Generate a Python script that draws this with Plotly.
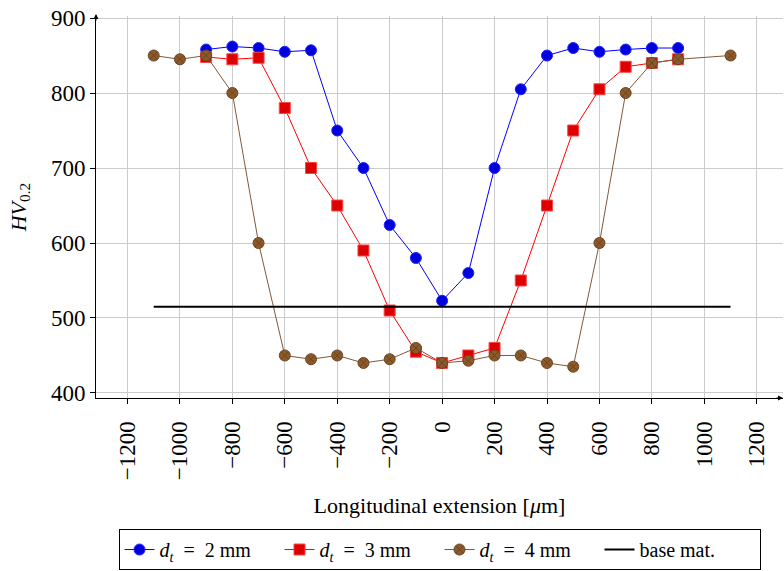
import plotly.graph_objects as go

x_d2 = [-900, -800, -700, -600, -500, -400, -300, -200, -100, 0, 100, 200, 300, 400, 500, 600, 700, 800, 900]
hv_d2 = [858, 862, 860, 855, 857, 750, 700, 624, 580, 523, 560, 700, 805, 850, 860, 855, 858, 860, 860]

x_d3 = [-900, -800, -700, -600, -500, -400, -300, -200, -100, 0, 100, 200, 300, 400, 500, 600, 700, 800, 900]
hv_d3 = [848, 845, 847, 780, 700, 650, 590, 510, 455, 440, 450, 460, 550, 650, 750, 805, 835, 840, 845]

x_d4 = [-1100, -1000, -900, -800, -700, -600, -500, -400, -300, -200, -100, 0, 100, 200, 300, 400, 500, 600, 700, 800, 900, 1100]
hv_d4 = [850, 845, 850, 800, 600, 450, 445, 450, 440, 445, 460, 440, 443, 450, 450, 440, 435, 600, 800, 840, 845, 850]

x_base = [-1100, 1100]
hv_base = [515, 515]

x_ticks = [-1200, -1000, -800, -600, -400, -200, 0, 200, 400, 600, 800, 1000, 1200]
x_tick_labels = ["−1200", "−1000", "−800", "−600", "−400", "−200", "0", "200", "400", "600", "800", "1000", "1200"]
y_ticks = [400, 500, 600, 700, 800, 900]

FONT = "Liberation Serif"

fig = go.Figure()
fig.add_trace(go.Scatter(
    x=x_d2, y=hv_d2, mode="lines+markers",
    name="<i>d</i><sub><i>t</i></sub>  =  2 mm",
    line=dict(color="#0000ff", width=1),
    marker=dict(symbol="circle", size=11, color="#0000dd", line=dict(color="#2222ff", width=1)),
))
fig.add_trace(go.Scatter(
    x=x_d3, y=hv_d3, mode="lines+markers",
    name="<i>d</i><sub><i>t</i></sub>  =  3 mm",
    line=dict(color="#ff0000", width=1),
    marker=dict(symbol="square", size=11, color="#dd0000", line=dict(color="#ff4444", width=1)),
))
fig.add_trace(go.Scatter(
    x=x_d4, y=hv_d4, mode="lines+markers",
    name="<i>d</i><sub><i>t</i></sub>  =  4 mm",
    line=dict(color="#80593a", width=1),
    marker=dict(symbol="circle-x", size=11, color="#8c5a2a", line=dict(color="#6b4420", width=1)),
))
fig.add_trace(go.Scatter(
    x=x_base, y=hv_base, mode="lines", name="base mat.",
    line=dict(color="black", width=2),
))

fig.update_layout(
    width=784, height=571,
    margin=dict(l=96, r=1, t=16, b=173, autoexpand=False),
    paper_bgcolor="white", plot_bgcolor="white",
    font=dict(family=FONT, size=20, color="black"),
    showlegend=True,
    legend=dict(
        orientation="h", x=0.5, xanchor="center", y=-0.343, yanchor="top",
        bordercolor="black", borderwidth=1, font=dict(family=FONT, size=20),
        itemwidth=30, tracegroupgap=0, entrywidth=115,
    ),
    xaxis=dict(
        range=[-1320, 1300], tickvals=x_ticks, ticktext=x_tick_labels,
        tickangle=-90, tickfont=dict(family=FONT, size=23),
        showgrid=True, gridcolor="#cccccc", gridwidth=1,
        showline=True, linecolor="black", linewidth=1,
        ticks="outside", ticklen=5, tickcolor="black", zeroline=False,
        ticklabelstandoff=8, automargin=False,
        title=dict(text="Longitudinal extension [<i>μ</i>m]", font=dict(family=FONT, size=22), standoff=18),
    ),
    yaxis=dict(
        range=[393.3, 902.7], tickvals=y_ticks,
        tickfont=dict(family=FONT, size=23), automargin=False,
        showgrid=True, gridcolor="#cccccc", gridwidth=1,
        showline=True, linecolor="black", linewidth=1,
        ticks="outside", ticklen=5, tickcolor="black", zeroline=False,
        title=dict(text="<i>HV</i><sub>0.2</sub>", font=dict(family=FONT, size=22), standoff=18),
    ),
    annotations=[
        dict(x=0, y=1.005, xref="paper", yref="paper", ax=0, ay=8, axref="pixel", ayref="pixel",
             showarrow=True, arrowhead=2, arrowsize=1, arrowwidth=1, arrowcolor="black", text=""),
        dict(x=1.0, y=0, xref="paper", yref="paper", ax=-8, ay=0, axref="pixel", ayref="pixel",
             showarrow=True, arrowhead=2, arrowsize=1, arrowwidth=1, arrowcolor="black", text=""),
    ],
)

fig.write_html("out.html")
